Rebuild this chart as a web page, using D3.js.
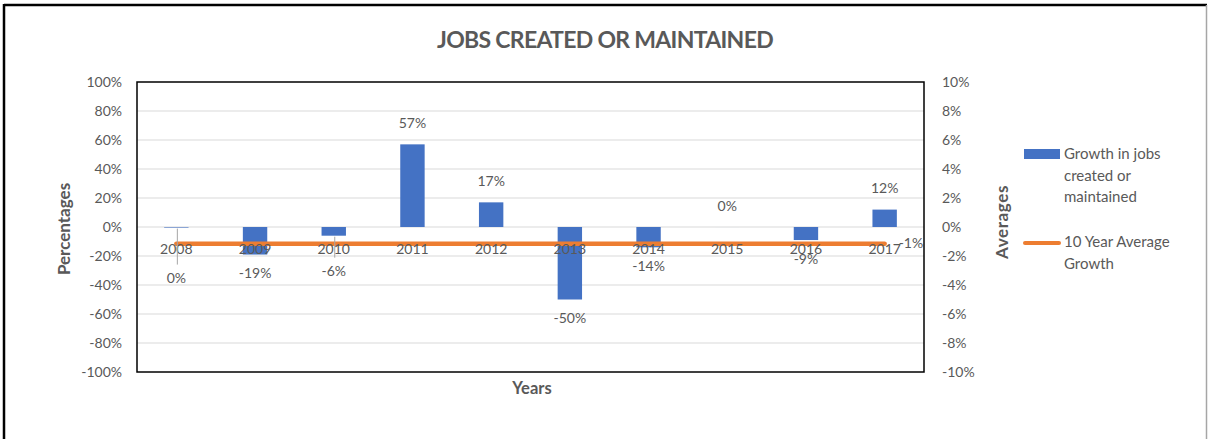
<!DOCTYPE html>
<html>
<head>
<meta charset="utf-8">
<script src="https://cdn.jsdelivr.net/npm/d3@7/dist/d3.min.js"></script>
<style>
  html, body { margin: 0; padding: 0; background: #fff; }
  svg { display: block; }
  text { font-family: Lato, "Open Sans", sans-serif; fill: #595959; }
</style>
</head>
<body>
<svg id="chart" width="1208" height="439"></svg>
<script>
// Yearly growth in jobs created or maintained (percent)
const years = ["2008", "2009", "2010", "2011", "2012", "2013", "2014", "2015", "2016", "2017"];
const growth = [-0.4, -19, -6, 57, 17, -50, -14, 0, -9, 12];
// Ten-year average growth (percent, right axis)
const average = [-1.15, -1.15, -1.15, -1.15, -1.15, -1.15, -1.15, -1.15, -1.15, -1.15];
const leftTicks = [100, 80, 60, 40, 20, 0, -20, -40, -60, -80, -100];
const rightTicks = [10, 8, 6, 4, 2, 0, -2, -4, -6, -8, -10];

const BLUE = "#4472c4", ORANGE = "#ed7d31", GRID = "#d9d9d9", TEXT = "#595959";

const svg = d3.select("#chart");
const plot = { left: 137, right: 924, top: 82, bottom: 372 };

// Outer frame
svg.append("line").attr("x1", 4).attr("x2", 4).attr("y1", 4).attr("y2", 439)
  .attr("stroke", "#000").attr("stroke-width", 2.5);
svg.append("line").attr("x1", 4).attr("x2", 1207).attr("y1", 5).attr("y2", 5)
  .attr("stroke", "#000").attr("stroke-width", 2.5);
svg.append("line").attr("x1", 1206.5).attr("x2", 1206.5).attr("y1", 5).attr("y2", 439)
  .attr("stroke", "#a6a6a6").attr("stroke-width", 1.5);

const x = d3.scaleBand().domain(years).range([plot.left, plot.right])
  .paddingInner(0.69).paddingOuter(0.345);
const yL = d3.scaleLinear().domain([-100, 100]).range([plot.bottom, plot.top]);
const yR = d3.scaleLinear().domain([-10, 10]).range([plot.bottom, plot.top]);
const cx = d => x(d) + x.bandwidth() / 2;

// Gridlines
svg.append("g").selectAll("line").data(leftTicks.filter(t => t !== 100 && t !== -100)).join("line")
  .attr("x1", plot.left).attr("x2", plot.right)
  .attr("y1", d => yL(d)).attr("y2", d => yL(d))
  .attr("stroke", GRID).attr("stroke-width", 1);

// Left axis
const leftAxis = svg.append("g").attr("transform", `translate(${plot.left - 15},0)`)
  .call(d3.axisLeft(yL).tickValues(leftTicks).tickSize(0).tickPadding(0).tickFormat(d => d + "%"));
leftAxis.select(".domain").remove();
leftAxis.selectAll("text").style("font-size", "14px").attr("fill", TEXT)
  .style("font-family", "Lato, sans-serif");

// Right axis
const rightAxis = svg.append("g").attr("transform", `translate(${plot.right + 18},0)`)
  .call(d3.axisRight(yR).tickValues(rightTicks).tickSize(0).tickPadding(0).tickFormat(d => d + "%"));
rightAxis.select(".domain").remove();
rightAxis.selectAll("text").style("font-size", "14px").attr("fill", TEXT)
  .style("font-family", "Lato, sans-serif");

// Bars
svg.append("g").selectAll("rect").data(years.map((y, i) => ({ year: y, v: growth[i] }))).join("rect")
  .attr("x", d => x(d.year)).attr("width", x.bandwidth())
  .attr("y", d => Math.min(yL(d.v), yL(0)))
  .attr("height", d => Math.max(Math.abs(yL(d.v) - yL(0)), 0.01))
  .attr("fill", BLUE);

// Ten-year average line (right axis)
const line = d3.line().x((d, i) => cx(years[i])).y(d => yR(d));
svg.append("path").datum(average).attr("d", line)
  .attr("fill", "none").attr("stroke", ORANGE).attr("stroke-width", 4.5).attr("stroke-linecap", "round");

// Category labels sit just under the zero line, over the bars
svg.append("g").selectAll("text").data(years).join("text")
  .attr("x", d => cx(d)).attr("y", yL(0) + 23)
  .attr("text-anchor", "middle").attr("dominant-baseline", "middle")
  .style("font-size", "14px").text(d => d);

// Data labels; two of them are pushed lower and joined by leader lines
const fmt = v => { const r = Math.round(v); return (r === 0 ? 0 : r) + "%"; };
const labelShift = { "2008": 32, "2010": 17 };
const labels = years.map((y, i) => {
  const v = growth[i];
  const end = yL(v);
  const shift = labelShift[y] || 0;
  const ly = (v >= 0 && !labelShift[y]) ? end - 20 : end + 20 + shift;
  return { year: y, v, end, ly, shift };
});
svg.append("g").selectAll("line").data(labels.filter(d => d.shift)).join("line")
  .attr("x1", d => cx(d.year) + 1).attr("x2", d => cx(d.year) + 1)
  .attr("y1", d => d.end + 1).attr("y2", d => d.ly - 15)
  .attr("stroke", "#a6a6a6").attr("stroke-width", 1);
svg.append("g").selectAll("text").data(labels).join("text")
  .attr("x", d => cx(d.year)).attr("y", d => d.ly)
  .attr("text-anchor", "middle").attr("dominant-baseline", "middle")
  .style("font-size", "14px").text(d => fmt(d.v));

// Average value label at the end of the line
svg.append("text")
  .attr("x", cx(years[years.length - 1]) + 14).attr("y", yR(average[average.length - 1]) + 1)
  .attr("dominant-baseline", "middle").style("font-size", "14px")
  .text(fmt(average[average.length - 1]));

// Plot area frame
svg.append("rect").attr("x", plot.left).attr("y", plot.top)
  .attr("width", plot.right - plot.left).attr("height", plot.bottom - plot.top)
  .attr("fill", "none").attr("stroke", "#000").attr("stroke-width", 1.5);

// Titles
svg.append("text").attr("x", 605).attr("y", 42).attr("text-anchor", "middle")
  .attr("dominant-baseline", "middle")
  .style("font-size", "23px").style("font-weight", "bold").style("letter-spacing", "-0.7px")
  .text("JOBS CREATED OR MAINTAINED");
svg.append("text").attr("transform", `translate(66,229) rotate(-90)`)
  .attr("text-anchor", "middle").attr("dominant-baseline", "middle")
  .style("font-size", "17px").style("font-weight", "bold").text("Percentages");
svg.append("text").attr("transform", `translate(1004,222) rotate(-90)`)
  .attr("text-anchor", "middle").attr("dominant-baseline", "middle")
  .style("font-size", "17px").style("font-weight", "bold").style("letter-spacing", "0.6px").text("Averages");
svg.append("text").attr("x", 532).attr("y", 390).attr("text-anchor", "middle")
  .attr("dominant-baseline", "middle")
  .style("font-size", "16.5px").style("font-weight", "bold").text("Years");

// Legend
const legend = svg.append("g");
legend.append("rect").attr("x", 1024).attr("y", 149).attr("width", 36).attr("height", 10).attr("fill", BLUE);
legend.append("text").attr("x", 1064).attr("dominant-baseline", "middle").style("font-size", "15px")
  .selectAll("tspan").data(["Growth in jobs", "created or", "maintained"]).join("tspan")
  .attr("x", 1064).attr("y", (d, i) => 155 + i * 21.5).text(d => d);
legend.append("line").attr("x1", 1025).attr("x2", 1059).attr("y1", 243).attr("y2", 243)
  .attr("stroke", ORANGE).attr("stroke-width", 4).attr("stroke-linecap", "round");
legend.append("text").attr("x", 1064).attr("dominant-baseline", "middle").style("font-size", "15px")
  .selectAll("tspan").data(["10 Year Average", "Growth"]).join("tspan")
  .attr("x", 1064).attr("y", (d, i) => 243 + i * 22).text(d => d);
</script>
</body>
</html>
